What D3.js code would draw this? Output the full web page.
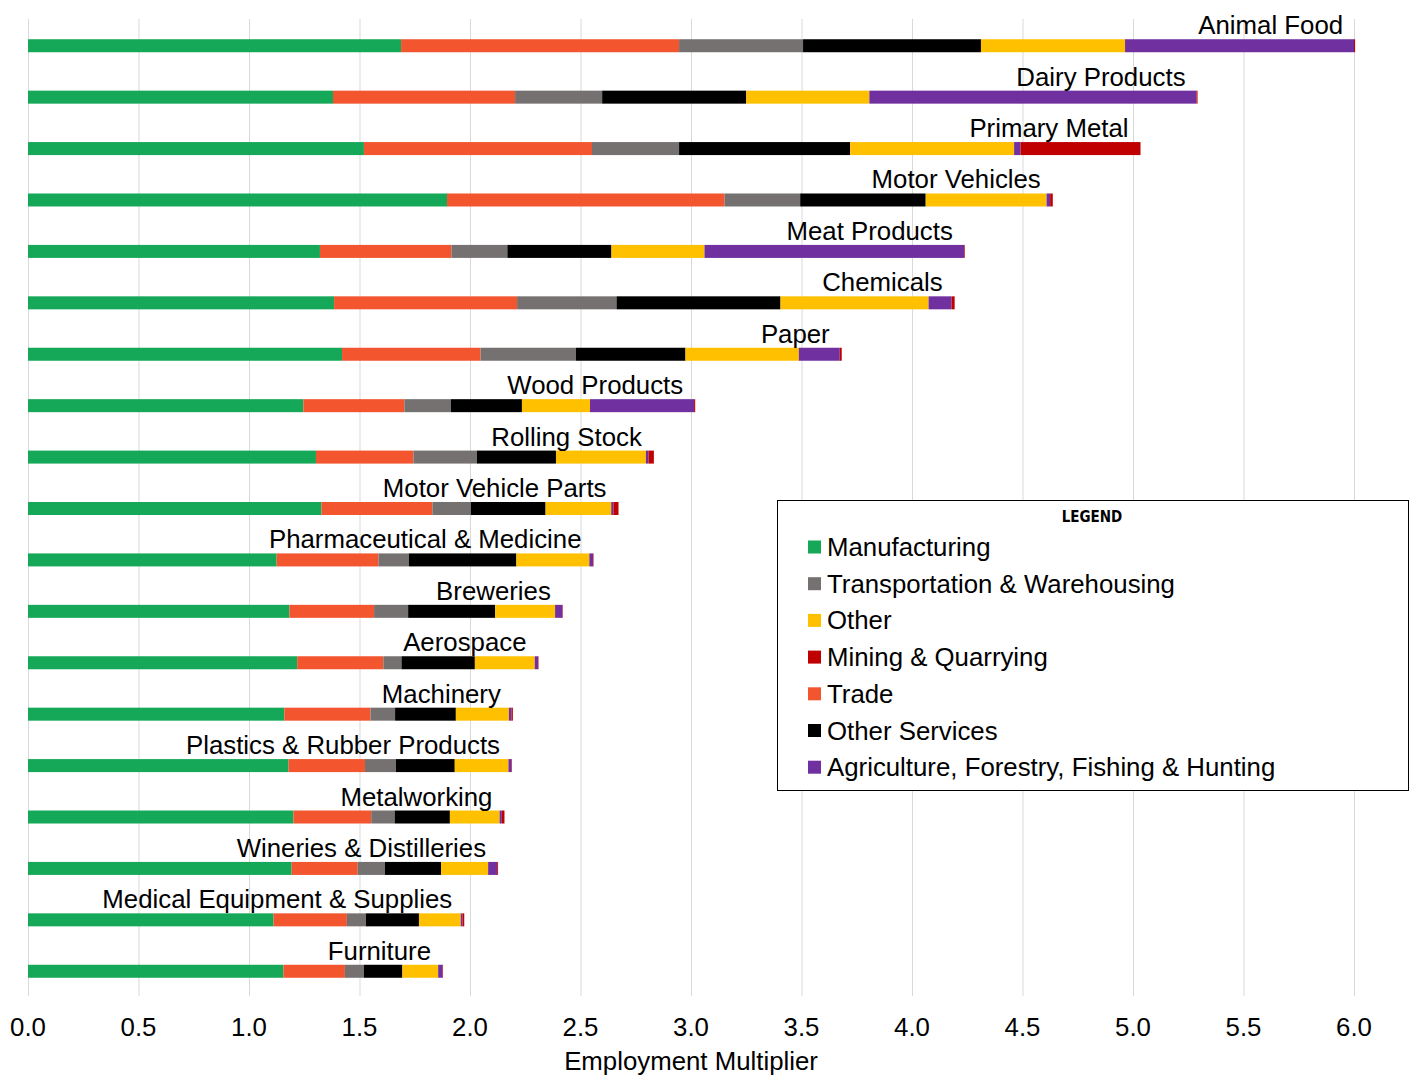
<!DOCTYPE html>
<html>
<head>
<meta charset="utf-8">
<script src="https://cdn.jsdelivr.net/npm/d3@7"></script>
<style>
  body { margin: 0; background: #fff; }
  svg text { font-family: "Liberation Sans", Arial, sans-serif; fill: #000; }
</style>
</head>
<body>
<div id="chart"></div>
<script>
// industries, top to bottom
var industries = ['Animal Food', 'Dairy Products', 'Primary Metal', 'Motor Vehicles', 'Meat Products',
	'Chemicals', 'Paper', 'Wood Products', 'Rolling Stock', 'Motor Vehicle Parts',
	'Pharmaceutical & Medicine', 'Breweries', 'Aerospace', 'Machinery', 'Plastics & Rubber Products',
	'Metalworking', 'Wineries & Distilleries', 'Medical Equipment & Supplies', 'Furniture'];

// multiplier contribution by sector (same order as industries)
var manufacturing = [1.688, 1.380, 1.520, 1.896, 1.321, 1.385, 1.421, 1.246, 1.303, 1.328, 1.125, 1.183, 1.218, 1.160, 1.179, 1.201, 1.193, 1.111, 1.156];
var trade = [1.258, 0.824, 1.032, 1.256, 0.595, 0.828, 0.627, 0.457, 0.441, 0.502, 0.461, 0.383, 0.390, 0.390, 0.346, 0.352, 0.299, 0.332, 0.278];
var transportation = [0.561, 0.394, 0.394, 0.342, 0.253, 0.450, 0.431, 0.211, 0.287, 0.174, 0.138, 0.154, 0.082, 0.111, 0.140, 0.106, 0.123, 0.086, 0.086];
var otherServices = [0.805, 0.652, 0.774, 0.568, 0.471, 0.742, 0.496, 0.321, 0.358, 0.338, 0.486, 0.394, 0.332, 0.275, 0.266, 0.250, 0.254, 0.240, 0.174];
var other = [0.652, 0.557, 0.742, 0.547, 0.421, 0.670, 0.513, 0.308, 0.407, 0.297, 0.330, 0.271, 0.271, 0.240, 0.243, 0.225, 0.213, 0.189, 0.162];
var agriculture = [1.036, 1.480, 0.029, 0.016, 1.175, 0.104, 0.185, 0.471, 0.012, 0.010, 0.017, 0.033, 0.015, 0.012, 0.014, 0.010, 0.041, 0.008, 0.020];
var mining = [0.005, 0.005, 0.543, 0.012, 0.003, 0.014, 0.009, 0.005, 0.024, 0.023, 0.002, 0.002, 0.002, 0.006, 0.002, 0.012, 0.004, 0.008, 0.002];

var sectors = ['Manufacturing', 'Trade', 'Transportation & Warehousing', 'Other Services', 'Other',
	'Agriculture, Forestry, Fishing & Hunting', 'Mining & Quarrying'];
var sectorValues = [manufacturing, trade, transportation, otherServices, other, agriculture, mining];
var sectorColors = ['#15A858', '#F3552F', '#767171', '#000000', '#FFC000', '#7030A0', '#C00000'];
var legendOrder = ['Manufacturing', 'Transportation & Warehousing', 'Other', 'Mining & Quarrying',
	'Trade', 'Other Services', 'Agriculture, Forestry, Fishing & Hunting'];
var xTicks = [0, 0.5, 1, 1.5, 2, 2.5, 3, 3.5, 4, 4.5, 5, 5.5, 6];

var width = 1413, height = 1076;
var margin = { top: 19, right: 59, bottom: 80, left: 28 };
var fontSize = 25.8;

// rows for d3.stack
var rows = industries.map(function (name, i) {
	var r = { name: name };
	sectors.forEach(function (s, k) { r[s] = sectorValues[k][i]; });
	return r;
});

var stacked = d3.stack().keys(sectors)(rows);
var color = d3.scaleOrdinal().domain(sectors).range(sectorColors);

var svg = d3.select('#chart').append('svg')
	.attr('width', width)
	.attr('height', height);

var x = d3.scaleLinear()
	.domain([0, 6])
	.range([margin.left, width - margin.right]);

var y = d3.scaleBand()
	.domain(industries)
	.range([margin.top, height - margin.bottom])
	.paddingInner(0.745)
	.paddingOuter(0.373);

var barH = 13;
var barY = function (name) { return y(name) + y.bandwidth() / 2 - barH / 2 + 1; };

// gridlines
svg.append('g')
	.selectAll('line')
	.data(xTicks)
	.join('line')
	.attr('x1', d => x(d) + 0.5)
	.attr('x2', d => x(d) + 0.5)
	.attr('y1', margin.top)
	.attr('y2', height - margin.bottom)
	.attr('stroke', '#d9d9d9')
	.attr('stroke-width', 1);

// tick labels
svg.append('g')
	.selectAll('text')
	.data(xTicks)
	.join('text')
	.attr('x', d => x(d))
	.attr('y', 1036)
	.attr('text-anchor', 'middle')
	.style('font-size', fontSize + 'px')
	.text(d => d3.format('.1f')(d));

svg.append('text')
	.attr('x', x(3))
	.attr('y', 1070)
	.attr('text-anchor', 'middle')
	.style('font-size', fontSize + 'px')
	.text('Employment Multiplier');

// bars
svg.append('g')
	.selectAll('g')
	.data(stacked)
	.join('g')
	.attr('fill', d => color(d.key))
	.selectAll('rect')
	.data(d => d)
	.join('rect')
	.attr('x', d => x(d[0]))
	.attr('y', d => barY(d.data.name))
	.attr('width', d => Math.max(0, x(d[1]) - x(d[0])))
	.attr('height', barH);

// industry labels sit above the bar end
var totals = rows.map(r => d3.sum(sectors, s => r[s]));
svg.append('g')
	.selectAll('text')
	.data(industries)
	.join('text')
	.attr('x', (d, i) => x(totals[i]) - 12)
	.attr('y', d => barY(d) - 5)
	.attr('text-anchor', 'end')
	.style('font-size', fontSize + 'px')
	.text(d => d);

// legend
var lg = svg.append('g').attr('transform', 'translate(777,500)');
lg.append('rect')
	.attr('x', 0.5).attr('y', 0.5)
	.attr('width', 631).attr('height', 290)
	.attr('fill', '#fff')
	.attr('stroke', '#000')
	.attr('stroke-width', 1);

lg.append('text')
	.attr('x', 315)
	.attr('y', 22)
	.attr('text-anchor', 'middle')
	.style('font-size', '15px')
	.style('font-weight', 'bold')
	.style('font-family', '"DejaVu Sans Condensed", "Liberation Sans Narrow", sans-serif')
	.text('LEGEND');

var items = lg.selectAll('g.item')
	.data(legendOrder)
	.join('g')
	.attr('class', 'item')
	.attr('transform', (d, i) => 'translate(31,' + (47 + i * 36.7) + ')');

items.append('rect')
	.attr('x', 0).attr('y', -6.5)
	.attr('width', 13).attr('height', 13)
	.attr('fill', d => color(d));

items.append('text')
	.attr('x', 19)
	.attr('y', 9)
	.style('font-size', fontSize + 'px')
	.text(d => d);
</script>
</body>
</html>
